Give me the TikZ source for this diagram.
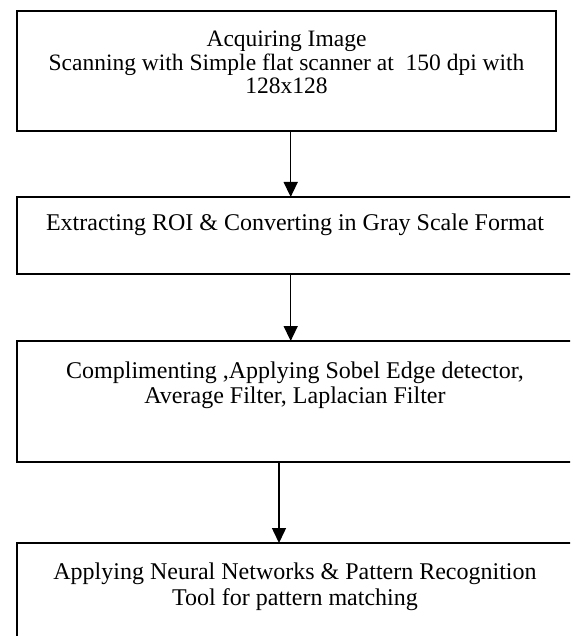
\documentclass[tikz,border=0pt]{standalone}
\usepackage{fontspec}
\setmainfont{Liberation Serif}
\usetikzlibrary{arrows.meta,calc}
\begin{document}
\begin{tikzpicture}[x=1pt,y=-1pt,
  box/.style={draw,line width=2pt,rectangle,inner sep=0pt,outer sep=0pt,anchor=north west},
  txt/.style={anchor=north,inner sep=0pt,align=center},
  arr/.style={line width=1.5pt,-{Triangle[width=14pt,length=15pt]}}]
\clip (0,0) rectangle (570,636);
\useasboundingbox (0,0) rectangle (570,636);
\fill[white] (0,0) rectangle (570,636);
\node[box,minimum width=539pt,minimum height=120pt] (b1) at (17,11) {};
\node[box,minimum width=580pt,minimum height=77pt] (b2) at (17,197) {};
\node[box,minimum width=580pt,minimum height=121pt] (b3) at (17,341) {};
\node[box,minimum width=580pt,minimum height=120pt] (b4) at (17,543) {};
\node[txt,font=\fontsize{23.5pt}{23.5pt}\selectfont] (t1) at (286.5,31) {Acquiring Image\\Scanning with Simple flat scanner at\ \ 150 dpi with\\128x128};
\node[txt,font=\fontsize{24pt}{25pt}\selectfont] (t2) at (295,214) {Extracting ROI \& Converting in Gray Scale Format};
\node[txt,font=\fontsize{24pt}{25pt}\selectfont] (t3) at (295,362) {Complimenting ,Applying Sobel Edge detector,\\Average Filter, Laplacian Filter};
\node[txt,font=\fontsize{24pt}{26pt}\selectfont] (t4) at (295,563) {Applying Neural Networks \& Pattern Recognition\\Tool for pattern matching};
\coordinate (c1) at (290.7,0);
\coordinate (c3) at (279,0);
\draw[arr] (c1 |- b1.south) -- (c1 |- b2.north);
\draw[arr] (c1 |- b2.south) -- (c1 |- b3.north);
\draw[arr] (c3 |- b3.south) -- (c3 |- b4.north);
\end{tikzpicture}
\end{document}
